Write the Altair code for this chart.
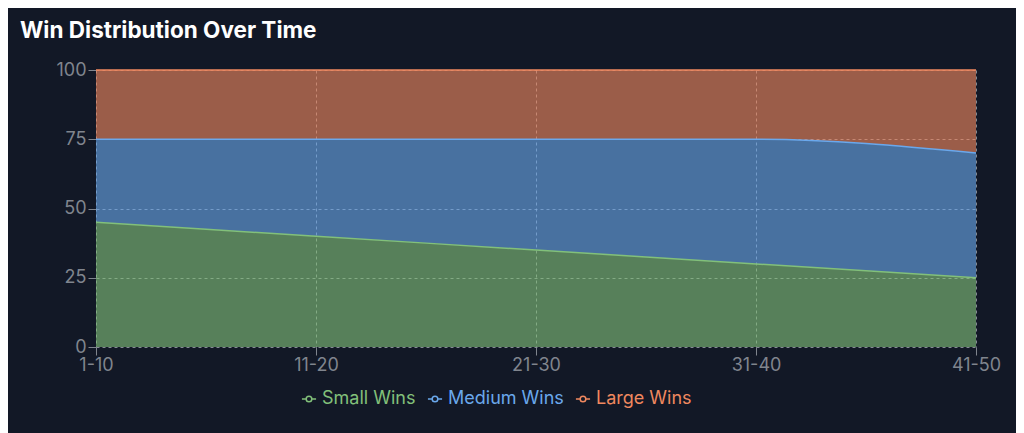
import altair as alt
import pandas as pd

periods = ["1-10", "11-20", "21-30", "31-40", "41-50"]
series = ["Small Wins", "Medium Wins", "Large Wins"]
small = [45, 40, 35, 30, 25]
medium = [30, 35, 40, 45, 45]
large = [25, 25, 25, 25, 30]
colors = ["#82c07a", "#6aa8ec", "#f0885f"]

rows = []
for s_i, (name, vals) in enumerate(zip(series, [small, medium, large])):
    for p, v in zip(periods, vals):
        rows.append({"period": p, "series": name, "value": v, "ord": s_i})
df = pd.DataFrame(rows)

color_scale = alt.Scale(domain=series, range=colors)

x = alt.X("period:N", sort=periods,
          scale=alt.Scale(type="point", padding=0),
          axis=alt.Axis(title=None, labelAngle=0, labelPadding=1, grid=True))
y = alt.Y("y1:Q", scale=alt.Scale(domain=[0, 100]),
          axis=alt.Axis(title=None, values=[0, 25, 50, 75, 100], labelPadding=2))

base = alt.Chart(df).transform_stack(
    stack="value", groupby=["period"], as_=["y0", "y1"],
    sort=[alt.SortField("ord", order="ascending")]
)

areas = [
    base.transform_filter(alt.datum.series == name)
    .mark_area(interpolate="monotone", fillOpacity=0.62, color=col)
    .encode(x=x, y=y, y2="y0:Q")
    for name, col in zip(series, colors)
]

label_expr = ("datum.value == 'Small Wins' ? '#82c07a' : "
              "datum.value == 'Medium Wins' ? '#6aa8ec' : '#f0885f'")

line = base.mark_line(interpolate="monotone", strokeWidth=1.5).encode(
    x=x, y=y,
    stroke=alt.Stroke("series:N", scale=color_scale, legend=alt.Legend(
        title=None, orient="none", direction="horizontal",
        legendX=204, legendY=320,
        symbolType="M-1,0L-0.4,0M0.4,0L1,0M0.4,0A0.4,0.4,0,1,1,-0.4,0A0.4,0.4,0,1,1,0.4,0",
        symbolSize=200, symbolStrokeWidth=1.5, symbolFillColor="#121826",
        labelFontSize=18, labelFont="Inter", labelOffset=4, columnPadding=8,
        labelColor={"expr": label_expr},
    )),
)

chart = alt.layer(*areas, line).properties(
    width=880, height=277,
    autosize=alt.AutoSizeParams(type="none"),
    padding={"left": 88, "top": 62, "right": 40, "bottom": 86},
    background="#121826",
    title=alt.TitleParams(
        "Win Distribution Over Time", anchor="start", frame="group",
        dx=-76, offset=1, baseline="alphabetic",
        fontSize=22.5, fontWeight="bold", font="Inter", color="#ffffff",
    ),
).configure_view(stroke=None).configure_axis(
    labelColor="#80858e", labelFontSize=18, labelFont="Inter",
    tickColor="#80858e", tickSize=8,
    gridColor="#b5bac2", gridDash=[3, 3], gridOpacity=0.7, gridWidth=1,
    domain=False,
)

chart.save("out.html", embed_options={"renderer": "svg", "actions": False})
